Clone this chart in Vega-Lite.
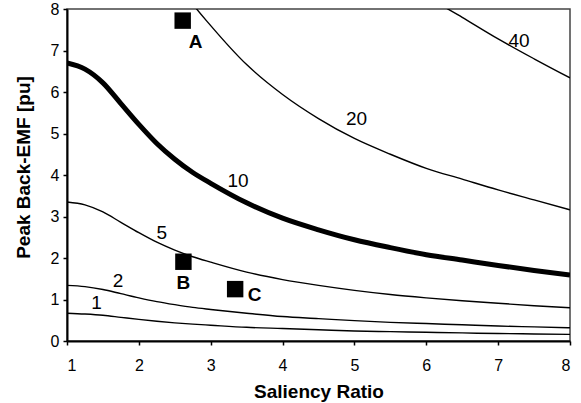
{
  "$schema": "https://vega.github.io/schema/vega-lite/v6.json",
  "width": 503,
  "height": 332,
  "autosize": "none",
  "padding": {"left": 67, "top": 9, "right": 11, "bottom": 62},
  "background": "white",
  "config": {
    "font": "Liberation Sans",
    "view": {"stroke": "#444444", "strokeWidth": 1.5},
    "axis": {
      "grid": false,
      "domainColor": "black",
      "domainWidth": 2,
      "tickColor": "black",
      "tickWidth": 1.5,
      "tickSize": 4,
      "labelFont": "Liberation Sans",
      "labelFontSize": 16,
      "labelColor": "black",
      "titleFont": "Liberation Sans",
      "titleFontSize": 19,
      "titleFontWeight": "bold",
      "titleColor": "black"
    }
  },
  "datasets": {
    "curves": [
      {"k": 1, "x": 1, "y": 0.67}, {"k": 1, "x": 1.25, "y": 0.65}, {"k": 1, "x": 1.5, "y": 0.62}, {"k": 1, "x": 1.75, "y": 0.57}, {"k": 1, "x": 2, "y": 0.52}, {"k": 1, "x": 2.25, "y": 0.476}, {"k": 1, "x": 2.5, "y": 0.438}, {"k": 1, "x": 2.75, "y": 0.406}, {"k": 1, "x": 3, "y": 0.38}, {"k": 1, "x": 3.5, "y": 0.33}, {"k": 1, "x": 4, "y": 0.30}, {"k": 1, "x": 4.5, "y": 0.27}, {"k": 1, "x": 5, "y": 0.24}, {"k": 1, "x": 5.5, "y": 0.225}, {"k": 1, "x": 6, "y": 0.21}, {"k": 1, "x": 6.5, "y": 0.195}, {"k": 1, "x": 7, "y": 0.18}, {"k": 1, "x": 7.5, "y": 0.17}, {"k": 1, "x": 8, "y": 0.16},
      {"k": 2, "x": 1, "y": 1.34}, {"k": 2, "x": 1.25, "y": 1.31}, {"k": 2, "x": 1.5, "y": 1.24}, {"k": 2, "x": 1.75, "y": 1.14}, {"k": 2, "x": 2, "y": 1.04}, {"k": 2, "x": 2.25, "y": 0.95}, {"k": 2, "x": 2.5, "y": 0.876}, {"k": 2, "x": 2.75, "y": 0.81}, {"k": 2, "x": 3, "y": 0.76}, {"k": 2, "x": 3.5, "y": 0.67}, {"k": 2, "x": 4, "y": 0.59}, {"k": 2, "x": 4.5, "y": 0.54}, {"k": 2, "x": 5, "y": 0.49}, {"k": 2, "x": 5.5, "y": 0.45}, {"k": 2, "x": 6, "y": 0.42}, {"k": 2, "x": 6.5, "y": 0.39}, {"k": 2, "x": 7, "y": 0.36}, {"k": 2, "x": 7.5, "y": 0.34}, {"k": 2, "x": 8, "y": 0.32},
      {"k": 5, "x": 1, "y": 3.35}, {"k": 5, "x": 1.25, "y": 3.28}, {"k": 5, "x": 1.5, "y": 3.11}, {"k": 5, "x": 1.75, "y": 2.86}, {"k": 5, "x": 2, "y": 2.61}, {"k": 5, "x": 2.25, "y": 2.38}, {"k": 5, "x": 2.5, "y": 2.19}, {"k": 5, "x": 2.75, "y": 2.03}, {"k": 5, "x": 3, "y": 1.90}, {"k": 5, "x": 3.5, "y": 1.66}, {"k": 5, "x": 4, "y": 1.48}, {"k": 5, "x": 4.5, "y": 1.34}, {"k": 5, "x": 5, "y": 1.22}, {"k": 5, "x": 5.5, "y": 1.12}, {"k": 5, "x": 6, "y": 1.04}, {"k": 5, "x": 6.5, "y": 0.97}, {"k": 5, "x": 7, "y": 0.91}, {"k": 5, "x": 7.5, "y": 0.85}, {"k": 5, "x": 8, "y": 0.80},
      {"k": 10, "x": 1, "y": 6.70}, {"k": 10, "x": 1.25, "y": 6.55}, {"k": 10, "x": 1.5, "y": 6.22}, {"k": 10, "x": 1.75, "y": 5.72}, {"k": 10, "x": 2, "y": 5.22}, {"k": 10, "x": 2.25, "y": 4.76}, {"k": 10, "x": 2.5, "y": 4.38}, {"k": 10, "x": 2.75, "y": 4.06}, {"k": 10, "x": 3, "y": 3.80}, {"k": 10, "x": 3.5, "y": 3.33}, {"k": 10, "x": 4, "y": 2.96}, {"k": 10, "x": 4.5, "y": 2.68}, {"k": 10, "x": 5, "y": 2.44}, {"k": 10, "x": 5.5, "y": 2.25}, {"k": 10, "x": 6, "y": 2.08}, {"k": 10, "x": 6.5, "y": 1.95}, {"k": 10, "x": 7, "y": 1.82}, {"k": 10, "x": 7.5, "y": 1.70}, {"k": 10, "x": 8, "y": 1.59},
      {"k": 20, "x": 2.5, "y": 8.76}, {"k": 20, "x": 2.75, "y": 8.12}, {"k": 20, "x": 3, "y": 7.60}, {"k": 20, "x": 3.5, "y": 6.66}, {"k": 20, "x": 4, "y": 5.94}, {"k": 20, "x": 4.5, "y": 5.36}, {"k": 20, "x": 5, "y": 4.88}, {"k": 20, "x": 5.5, "y": 4.50}, {"k": 20, "x": 6, "y": 4.16}, {"k": 20, "x": 6.5, "y": 3.90}, {"k": 20, "x": 7, "y": 3.64}, {"k": 20, "x": 7.5, "y": 3.40}, {"k": 20, "x": 8, "y": 3.16},
      {"k": 40, "x": 5.5, "y": 9.0}, {"k": 40, "x": 6, "y": 8.32}, {"k": 40, "x": 6.5, "y": 7.8}, {"k": 40, "x": 7, "y": 7.28}, {"k": 40, "x": 7.5, "y": 6.8}, {"k": 40, "x": 8, "y": 6.34}
    ],
    "curveLabels": [
      {"x": 1.41, "y": 0.92, "t": "1"},
      {"x": 1.71, "y": 1.45, "t": "2"},
      {"x": 2.32, "y": 2.61, "t": "5"},
      {"x": 3.38, "y": 3.86, "t": "10"},
      {"x": 5.03, "y": 5.35, "t": "20"},
      {"x": 7.29, "y": 7.24, "t": "40"}
    ],
    "designs": [
      {"name": "A", "x": 2.61, "y": 7.72, "lx": 2.79, "ly": 7.21},
      {"name": "B", "x": 2.62, "y": 1.91, "lx": 2.62, "ly": 1.39},
      {"name": "C", "x": 3.34, "y": 1.25, "lx": 3.61, "ly": 1.11}
    ]
  },
  "layer": [
    {
      "data": {"name": "curves"},
      "transform": [{"filter": "datum.k != 10"}],
      "mark": {"type": "line", "color": "black", "strokeWidth": 1.4, "interpolate": "monotone", "clip": true},
      "encoding": {
        "x": {"field": "x", "type": "quantitative", "scale": {"domain": [1, 8], "nice": false}, "axis": {"values": [1, 2, 3, 4, 5, 6, 7, 8], "format": "d", "title": "Saliency Ratio", "labelPadding": 12, "titlePadding": 9}},
        "y": {"field": "y", "type": "quantitative", "scale": {"domain": [0, 8], "nice": false}, "axis": {"values": [0, 1, 2, 3, 4, 5, 6, 7, 8], "format": "d", "title": "Peak Back-EMF [pu]", "labelPadding": 4, "titlePadding": 17, "titleY": 158}},
        "detail": {"field": "k", "type": "nominal"}
      }
    },
    {
      "data": {"name": "curves"},
      "transform": [{"filter": "datum.k == 10"}],
      "mark": {"type": "line", "color": "black", "strokeWidth": 5, "interpolate": "monotone", "clip": true},
      "encoding": {
        "x": {"field": "x", "type": "quantitative"},
        "y": {"field": "y", "type": "quantitative"}
      }
    },
    {
      "data": {"name": "curveLabels"},
      "mark": {"type": "text", "fontSize": 19, "color": "black", "font": "Liberation Sans"},
      "encoding": {
        "x": {"field": "x", "type": "quantitative"},
        "y": {"field": "y", "type": "quantitative"},
        "text": {"field": "t"}
      }
    },
    {
      "data": {"name": "designs"},
      "mark": {"type": "point", "shape": "square", "filled": true, "color": "black", "opacity": 1, "size": 270},
      "encoding": {
        "x": {"field": "x", "type": "quantitative"},
        "y": {"field": "y", "type": "quantitative"}
      }
    },
    {
      "data": {"name": "designs"},
      "mark": {"type": "text", "fontSize": 19, "fontWeight": "bold", "color": "black", "font": "Liberation Sans"},
      "encoding": {
        "x": {"field": "lx", "type": "quantitative"},
        "y": {"field": "ly", "type": "quantitative"},
        "text": {"field": "name"}
      }
    }
  ]
}
